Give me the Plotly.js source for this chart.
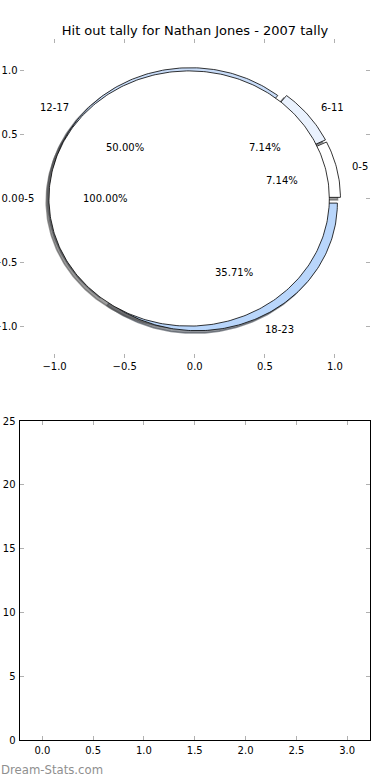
<!DOCTYPE html>
<html><head><meta charset="utf-8">
<script src="https://cdn.plot.ly/plotly-3.0.1.min.js"></script>
<style>html,body{margin:0;padding:0;background:#fff}#chart{width:390px;height:780px}</style>
</head><body><div id="chart"></div>
<script>
// ---- data ----
const categories = ['0-5', '6-11', '12-17', '18-23'];
const hitOuts = [1, 1, 7, 5];
const sliceColors = ['#ffffff', '#eaf2fe', '#c8dcf8', '#b9d6fb'];
const overlayCategories = ['0-5'];
const overlayHitOuts = [1];
const overlayColors = ['#ffffff'];
const pieTicks = [-1, -0.5, 0, 0.5, 1];
const barXTicks = [0, 0.5, 1, 1.5, 2, 2.5, 3];
const barYTicks = [0, 5, 10, 15, 20, 25];
const titleText = 'Hit out tally for Nathan Jones - 2007 tally';
const watermark = 'Dream-Stats.com';

// ---- style constants ----
const EXPLODE = 0.04, LABEL_DIST = 1.1, PCT_DIST = 0.6, SHADOW_OFF = -0.02;
const FONT = 'DejaVu Sans';

function pieGeometry(values, explode) {
  const total = values.reduce((a, b) => a + b, 0);
  let start = 0; const out = [];
  values.forEach(v => {
    const frac = v / total;
    const t1 = start * 360, t2 = (start + frac) * 360;
    const tm = (t1 + t2) / 2 * Math.PI / 180;
    out.push({frac, t1, t2, tm, cx: explode * Math.cos(tm), cy: explode * Math.sin(tm)});
    start += frac;
  });
  return out;
}
function wedgeXY(g, dx, dy) {
  const full = (g.t2 - g.t1) >= 359.999;
  const xs = [], ys = [];
  const ox = g.cx + dx, oy = g.cy + dy;
  if (!full) { xs.push(ox); ys.push(oy); }
  const n = Math.max(4, Math.ceil(g.t2 - g.t1));
  for (let i = 0; i <= n; i++) {
    const a = (g.t1 + (g.t2 - g.t1) * i / n) * Math.PI / 180;
    xs.push(ox + Math.cos(a)); ys.push(oy + Math.sin(a));
  }
  if (!full) { xs.push(ox); ys.push(oy); }
  return {xs, ys};
}
function shadowColor(hex) {
  const r = parseInt(hex.slice(1, 3), 16), g = parseInt(hex.slice(3, 5), 16), b = parseInt(hex.slice(5, 7), 16);
  return `rgba(${Math.round(r * 0.3)},${Math.round(g * 0.3)},${Math.round(b * 0.3)},0.55)`;
}

const pies = [
  {cats: categories, vals: hitOuts, cols: sliceColors},
  {cats: overlayCategories, vals: overlayHitOuts, cols: overlayColors}
];
const geoms = pies.map(p => pieGeometry(p.vals, EXPLODE));

const traces = [];
// shadows first (below all wedges)
pies.forEach((p, pi) => {
  geoms[pi].forEach((g, i) => {
    const w = wedgeXY(g, SHADOW_OFF, SHADOW_OFF);
    const c = shadowColor(p.cols[i]);
    traces.push({type: 'scatter', mode: 'lines', x: w.xs, y: w.ys, fill: 'toself',
      fillcolor: c, line: {color: c, width: 1.5}, hoverinfo: 'skip', xaxis: 'x', yaxis: 'y'});
  });
});
// wedges
pies.forEach((p, pi) => {
  geoms[pi].forEach((g, i) => {
    const w = wedgeXY(g, 0, 0);
    traces.push({type: 'scatter', mode: 'lines', x: w.xs, y: w.ys, fill: 'toself',
      fillcolor: p.cols[i], line: {color: '#000', width: 0.8}, hoverinfo: 'skip', name: p.cats[i], xaxis: 'x', yaxis: 'y'});
  });
});
// empty lower chart
traces.push({type: 'bar', x: [], y: [], xaxis: 'x2', yaxis: 'y2', hoverinfo: 'skip'});

const annotations = [];
pies.forEach((p, pi) => {
  geoms[pi].forEach((g, i) => {
    const lx = g.cx + LABEL_DIST * Math.cos(g.tm), ly = g.cy + LABEL_DIST * Math.sin(g.tm);
    annotations.push({x: lx, y: ly, xref: 'x', yref: 'y', text: p.cats[i], showarrow: false,
      xanchor: lx > 0 ? 'left' : 'right', yanchor: 'middle', font: {family: FONT, size: 10, color: '#000'}, borderpad: 0});
    const px = g.cx + PCT_DIST * Math.cos(g.tm), py = g.cy + PCT_DIST * Math.sin(g.tm);
    annotations.push({x: px, y: py, xref: 'x', yref: 'y', text: (g.frac * 100).toFixed(2) + '%', showarrow: false,
      xanchor: 'center', yanchor: 'middle', font: {family: FONT, size: 10, color: '#000'}, borderpad: 0});
  });
});
annotations.push({x: 0, y: 1 - 770 / 780, xref: 'paper', yref: 'paper', xanchor: 'left', yanchor: 'middle',
  text: watermark, showarrow: false, font: {family: FONT, size: 11.7, color: '#8f8f8f'}, borderpad: 0});

const axCommon = {ticks: 'inside', ticklen: 4, tickwidth: 1, tickcolor: '#b0b0b0', showgrid: false, zeroline: false,
  fixedrange: true, tickfont: {family: FONT, size: 10, color: '#000'}, ticklabelstandoff: 1};
const xDom = [19.5 / 390, 370 / 390];

const layout = {
  width: 390, height: 780, margin: {l: 0, r: 0, t: 0, b: 0},
  paper_bgcolor: '#ffffff', plot_bgcolor: 'rgba(0,0,0,0)', showlegend: false,
  font: {family: FONT, size: 10, color: '#000'},
  title: {text: titleText, x: 0.5, xref: 'paper', xanchor: 'center', y: 1 - 30 / 780, yref: 'paper', yanchor: 'middle',
    font: {family: FONT, size: 13, color: '#000'}},
  xaxis: Object.assign({}, axCommon, {domain: xDom, range: [-1.25, 1.25], anchor: 'y', tickvals: pieTicks, tickformat: '.1f',
    showline: false, mirror: 'ticks'}),
  yaxis: Object.assign({}, axCommon, {domain: [1 - 358 / 780, 1 - 39 / 780], range: [-1.25, 1.25], anchor: 'x', tickvals: pieTicks,
    tickformat: '.1f', showline: false, mirror: 'ticks'}),
  xaxis2: Object.assign({}, axCommon, {domain: xDom, range: [-0.225, 3.225], anchor: 'y2', tickvals: barXTicks, tickformat: '.1f',
    showline: true, linecolor: '#000', linewidth: 1, mirror: 'ticks'}),
  yaxis2: Object.assign({}, axCommon, {domain: [1 - 740 / 780, 1 - 421 / 780], range: [0, 25], anchor: 'x2', tickvals: barYTicks,
    showline: true, linecolor: '#000', linewidth: 1, mirror: 'ticks'}),
  annotations: annotations
};

Plotly.newPlot('chart', traces, layout, {displayModeBar: false, staticPlot: true});
</script>
</body></html>
